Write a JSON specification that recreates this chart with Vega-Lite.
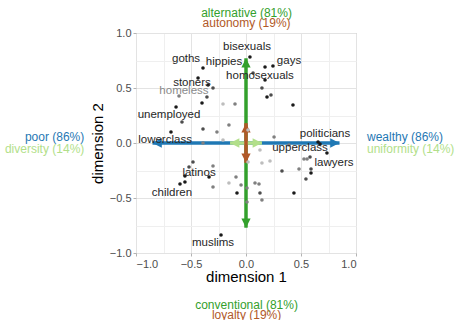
{
  "$schema": "https://vega.github.io/schema/vega-lite/v6.json",
  "width": 220,
  "height": 220,
  "autosize": {"type": "none"},
  "padding": {"left": 136, "top": 33, "right": 101, "bottom": 67},
  "config": {
    "font": "Liberation Sans",
    "view": {"stroke": "#b3b3b3", "strokeWidth": 1},
    "axis": {
      "domain": false,
      "labelFont": "Liberation Sans",
      "labelFontSize": 11,
      "labelColor": "#4d4d4d",
      "tickColor": "#b3b3b3",
      "tickSize": 3,
      "labelPadding": 2,
      "titleFont": "Liberation Sans",
      "titleFontSize": 15,
      "titleFontWeight": "normal",
      "titleColor": "#000000",
      "gridColor": "#e3e3e3"
    }
  },
  "datasets": {
    "arrows": [
      {"dim": "wealth", "x": -0.85, "y": 0, "x2": 0.85, "y2": 0},
      {"dim": "alt", "x": 0, "y": -0.77, "x2": 0, "y2": 0.77},
      {"dim": "uni", "x": -0.145, "y": 0, "x2": 0.145, "y2": 0},
      {"dim": "aut", "x": 0, "y": -0.18, "x2": 0, "y2": 0.18}
    ],
    "heads": [
      {"dim": "wealth", "x": 0.85, "y": 0, "dir": 0},
      {"dim": "wealth", "x": -0.85, "y": 0, "dir": 180},
      {"dim": "alt", "x": 0, "y": 0.77, "dir": 270},
      {"dim": "alt", "x": 0, "y": -0.77, "dir": 90},
      {"dim": "uni", "x": 0.145, "y": 0, "dir": 0},
      {"dim": "uni", "x": -0.145, "y": 0, "dir": 180},
      {"dim": "aut", "x": 0, "y": 0.18, "dir": 270},
      {"dim": "aut", "x": 0, "y": -0.18, "dir": 90}
    ],
    "points": [
      {"x": -0.209, "y": 0.355, "shade": "l"},
      {"x": 0.018, "y": 0.118, "shade": "l"},
      {"x": 0.127, "y": -0.064, "shade": "l"},
      {"x": 0.145, "y": -0.182, "shade": "l"},
      {"x": 0.218, "y": -0.164, "shade": "l"},
      {"x": 0.018, "y": -0.173, "shade": "l"},
      {"x": -0.209, "y": 0.027, "shade": "l"},
      {"x": -0.155, "y": -0.364, "shade": "l"},
      {"x": -0.609, "y": 0.427, "shade": "m"},
      {"x": -0.1, "y": 0.355, "shade": "m"},
      {"x": -0.155, "y": 0.164, "shade": "m"},
      {"x": -0.264, "y": 0.1, "shade": "m"},
      {"x": 0.255, "y": 0.055, "shade": "m"},
      {"x": 0.391, "y": -0.018, "shade": "m"},
      {"x": 0.482, "y": -0.236, "shade": "m"},
      {"x": 0.527, "y": -0.145, "shade": "m"},
      {"x": 0.555, "y": -0.145, "shade": "m"},
      {"x": 0.082, "y": -0.364, "shade": "m"},
      {"x": 0.118, "y": -0.373, "shade": "m"},
      {"x": 0.009, "y": -0.409, "shade": "m"},
      {"x": 0.145, "y": -0.518, "shade": "m"},
      {"x": 0.009, "y": -0.536, "shade": "m"},
      {"x": -0.045, "y": -0.382, "shade": "m"},
      {"x": -0.391, "y": 0.0, "shade": "m"},
      {"x": -0.3, "y": -0.209, "shade": "m"},
      {"x": -0.3, "y": -0.4, "shade": "m"},
      {"x": -0.091, "y": -0.309, "shade": "m"},
      {"x": -0.3, "y": 0.5, "shade": "d"},
      {"x": -0.355, "y": 0.418, "shade": "d"},
      {"x": -0.582, "y": 0.191, "shade": "d"},
      {"x": -0.391, "y": 0.127, "shade": "d"},
      {"x": 0.064, "y": 0.636, "shade": "d"},
      {"x": 0.145, "y": 0.5, "shade": "d"},
      {"x": 0.227, "y": 0.436, "shade": "d"},
      {"x": 0.327, "y": -0.255, "shade": "d"},
      {"x": 0.582, "y": -0.127, "shade": "d"},
      {"x": 0.591, "y": -0.236, "shade": "d"},
      {"x": 0.545, "y": -0.327, "shade": "d"},
      {"x": 0.127, "y": -0.455, "shade": "d"},
      {"x": -0.482, "y": -0.173, "shade": "d"},
      {"x": -0.518, "y": -0.218, "shade": "d"},
      {"x": -0.391, "y": 0.682, "shade": "k"},
      {"x": -0.436, "y": 0.591, "shade": "k"},
      {"x": -0.345, "y": 0.527, "shade": "k"},
      {"x": -0.4, "y": 0.364, "shade": "k"},
      {"x": -0.636, "y": 0.327, "shade": "k"},
      {"x": -0.682, "y": 0.1, "shade": "k"},
      {"x": 0.036, "y": 0.782, "shade": "k"},
      {"x": 0.173, "y": 0.691, "shade": "k"},
      {"x": 0.245, "y": 0.7, "shade": "k"},
      {"x": 0.173, "y": 0.573, "shade": "k"},
      {"x": 0.191, "y": 0.418, "shade": "k"},
      {"x": 0.427, "y": 0.345, "shade": "k"},
      {"x": 0.655, "y": 0.009, "shade": "k"},
      {"x": 0.673, "y": -0.009, "shade": "k"},
      {"x": 0.736, "y": -0.091, "shade": "k"},
      {"x": 0.591, "y": -0.273, "shade": "k"},
      {"x": 0.436, "y": -0.455, "shade": "k"},
      {"x": -0.555, "y": -0.3, "shade": "k"},
      {"x": -0.555, "y": -0.355, "shade": "k"},
      {"x": -0.6, "y": -0.373, "shade": "k"},
      {"x": -0.336, "y": -0.309, "shade": "k"},
      {"x": -0.082, "y": -0.455, "shade": "k"},
      {"x": -0.227, "y": -0.836, "shade": "k"}
    ],
    "labels": [
      {"label": "bisexuals", "x": 0.009, "y": 0.873, "shade": "k"},
      {"label": "gays", "x": 0.391, "y": 0.745, "shade": "k"},
      {"label": "goths", "x": -0.545, "y": 0.764, "shade": "k"},
      {"label": "hippies", "x": -0.2, "y": 0.736, "shade": "k"},
      {"label": "homosexuals", "x": 0.127, "y": 0.609, "shade": "k"},
      {"label": "stoners", "x": -0.491, "y": 0.545, "shade": "k"},
      {"label": "homeless", "x": -0.564, "y": 0.473, "shade": "m"},
      {"label": "unemployed", "x": -0.7, "y": 0.255, "shade": "k"},
      {"label": "lowerclass", "x": -0.736, "y": 0.027, "shade": "k"},
      {"label": "politicians", "x": 0.718, "y": 0.082, "shade": "k"},
      {"label": "upperclass", "x": 0.491, "y": -0.045, "shade": "k"},
      {"label": "lawyers", "x": 0.8, "y": -0.182, "shade": "k"},
      {"label": "latinos", "x": -0.427, "y": -0.273, "shade": "k"},
      {"label": "children", "x": -0.673, "y": -0.455, "shade": "k"},
      {"label": "muslims", "x": -0.3, "y": -0.909, "shade": "k"}
    ],
    "ann": [
      {"txt": "alternative (81%)", "dim": "alt", "side": "center", "x": 0.005, "y": 1.18},
      {"txt": "autonomy (19%)", "dim": "aut", "side": "center", "x": 0.005, "y": 1.09},
      {"txt": "conventional (81%)", "dim": "alt", "side": "center", "x": 0.005, "y": -1.473},
      {"txt": "loyalty (19%)", "dim": "aut", "side": "center", "x": 0.005, "y": -1.564},
      {"txt": "poor (86%)", "dim": "wealth", "side": "left", "x": -1.47, "y": 0.055},
      {"txt": "diversity (14%)", "dim": "uni", "side": "left", "x": -1.47, "y": -0.055},
      {"txt": "wealthy (86%)", "dim": "wealth", "side": "right", "x": 1.1, "y": 0.055},
      {"txt": "uniformity (14%)", "dim": "uni", "side": "right", "x": 1.1, "y": -0.055}
    ]
  },
  "layer": [
    {
      "data": {"name": "arrows"},
      "mark": {"type": "rule", "strokeWidth": 3.5, "strokeCap": "butt"},
      "encoding": {
        "x": {"field": "x", "type": "quantitative", "scale": {"domain": [-1, 1], "nice": false, "zero": false},
          "axis": {"orient": "top", "values": [-0.75, -0.25, 0.25, 0.75], "grid": true, "gridColor": "#efefef", "labels": false, "ticks": false, "domain": false, "title": null}},
        "y": {"field": "y", "type": "quantitative", "scale": {"domain": [-1, 1], "nice": false, "zero": false},
          "axis": {"orient": "right", "values": [-0.75, -0.25, 0.25, 0.75], "grid": true, "gridColor": "#efefef", "labels": false, "ticks": false, "domain": false, "title": null}},
        "x2": {"field": "x2"},
        "y2": {"field": "y2"},
        "color": {"field": "dim", "type": "nominal", "legend": null,
          "scale": {"domain": ["wealth", "alt", "uni", "aut"], "range": ["#1f78b4", "#33a02c", "#b2df8a", "#b15928"]}}
      }
    },
    {
      "data": {"name": "heads"},
      "mark": {"type": "point", "shape": "M0,0L-1.7,-0.85L-1.7,0.85Z", "filled": true, "size": 120, "opacity": 1, "strokeWidth": 0},
      "encoding": {
        "x": {"field": "x", "type": "quantitative", "axis": null},
        "y": {"field": "y", "type": "quantitative", "axis": null},
        "angle": {"field": "dir", "type": "quantitative", "scale": null},
        "color": {"field": "dim", "type": "nominal", "legend": null,
          "scale": {"domain": ["wealth", "alt", "uni", "aut"], "range": ["#1f78b4", "#33a02c", "#b2df8a", "#b15928"]}}
      }
    },
    {
      "data": {"name": "points"},
      "mark": {"type": "circle", "size": 13, "opacity": 1},
      "encoding": {
        "x": {"field": "x", "type": "quantitative",
          "axis": {"orient": "bottom", "values": [-1, -0.5, 0, 0.5, 1], "format": ".1f", "grid": true, "title": "dimension 1", "titlePadding": 0}},
        "y": {"field": "y", "type": "quantitative",
          "axis": {"orient": "left", "values": [-1, -0.5, 0, 0.5, 1], "format": ".1f", "grid": true, "title": "dimension 2", "titlePadding": 4}},
        "color": {"field": "shade", "type": "nominal", "legend": null,
          "scale": {"domain": ["k", "d", "m", "l"], "range": ["#1a1a1a", "#4d4d4d", "#808080", "#bdbdbd"]}}
      }
    },
    {
      "data": {"name": "labels"},
      "mark": {"type": "text", "fontSize": 11.5, "baseline": "middle", "align": "center"},
      "encoding": {
        "x": {"field": "x", "type": "quantitative", "axis": null},
        "y": {"field": "y", "type": "quantitative", "axis": null},
        "text": {"field": "label"},
        "color": {"field": "shade", "type": "nominal", "legend": null,
          "scale": {"domain": ["k", "m"], "range": ["#262626", "#8a8a8a"]}}
      }
    },
    {
      "data": {"name": "ann"},
      "transform": [{"filter": "datum.side == 'center'"}],
      "mark": {"type": "text", "fontSize": 12, "baseline": "middle", "align": "center"},
      "encoding": {
        "x": {"field": "x", "type": "quantitative", "axis": null},
        "y": {"field": "y", "type": "quantitative", "axis": null},
        "text": {"field": "txt"},
        "color": {"field": "dim", "type": "nominal", "legend": null,
          "scale": {"domain": ["wealth", "alt", "uni", "aut"], "range": ["#1f78b4", "#33a02c", "#b2df8a", "#b15928"]}}
      }
    },
    {
      "data": {"name": "ann"},
      "transform": [{"filter": "datum.side == 'left'"}],
      "mark": {"type": "text", "fontSize": 12, "baseline": "middle", "align": "right"},
      "encoding": {
        "x": {"field": "x", "type": "quantitative", "axis": null},
        "y": {"field": "y", "type": "quantitative", "axis": null},
        "text": {"field": "txt"},
        "color": {"field": "dim", "type": "nominal", "legend": null,
          "scale": {"domain": ["wealth", "alt", "uni", "aut"], "range": ["#1f78b4", "#33a02c", "#b2df8a", "#b15928"]}}
      }
    },
    {
      "data": {"name": "ann"},
      "transform": [{"filter": "datum.side == 'right'"}],
      "mark": {"type": "text", "fontSize": 12, "baseline": "middle", "align": "left"},
      "encoding": {
        "x": {"field": "x", "type": "quantitative", "axis": null},
        "y": {"field": "y", "type": "quantitative", "axis": null},
        "text": {"field": "txt"},
        "color": {"field": "dim", "type": "nominal", "legend": null,
          "scale": {"domain": ["wealth", "alt", "uni", "aut"], "range": ["#1f78b4", "#33a02c", "#b2df8a", "#b15928"]}}
      }
    }
  ],
  "resolve": {"scale": {"color": "independent"}, "axis": {"x": "independent", "y": "independent"}}
}
